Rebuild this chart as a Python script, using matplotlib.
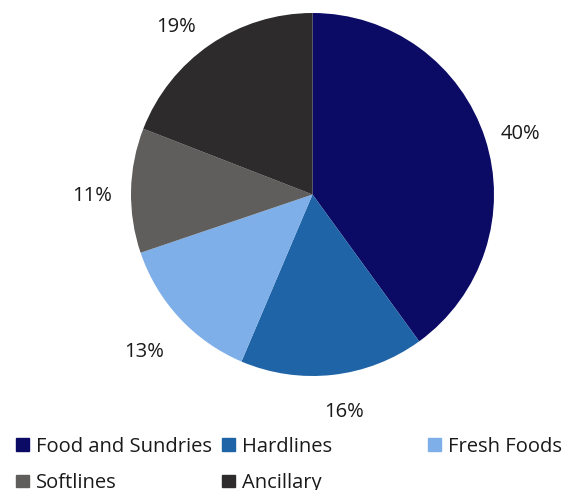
import matplotlib
matplotlib.use("Agg")
import matplotlib.pyplot as plt
from matplotlib.patches import Rectangle

plt.rcParams['font.family'] = ['Open Sans', 'DejaVu Sans']

categories = ["Food and Sundries", "Hardlines", "Fresh Foods", "Softlines", "Ancillary"]
shares = [40.0, 16.4, 13.4, 11.1, 19.1]
colors = ["#0b0b66", "#1f64a6", "#7eafe9", "#5f5e5c", "#2d2b2c"]

W, H = 570, 490
fig = plt.figure(figsize=(W / 100, H / 100), dpi=100)

# pie: centre (312.5, 194.5) px, radius 181.5 px
cx, cy, r = 312.5, 194.5, 181.5
ax = fig.add_axes([(cx - r) / W, (H - cy - r) / H, 2 * r / W, 2 * r / H])
wedges, texts, autotexts = ax.pie(
    shares, colors=colors, startangle=90, counterclock=False,
    autopct='%.0f%%', pctdistance=1.2,
    textprops={'fontsize': 14.5, 'color': '#1a1a1a'},
    wedgeprops={'linewidth': 0})
ax.set_xlim(-1, 1)
ax.set_ylim(-1, 1)
ax.set_aspect('equal')
ax.axis('off')

# outside-end label spots (baseline, in pie radius units)
label_spots = [(1.144, 0.306), (0.174, -1.226), (-0.928, -0.894),
               (-1.212, -0.036), (-0.752, 0.897)]
for t, (x, y) in zip(autotexts, label_spots):
    t.set_position((x, y))
    t.set_va('baseline')
    t.set_ha('center')

# legend, laid out like the original (row major, uneven columns)
# (marker left x, text baseline y) in pixels from top-left
legend_pos = [(16, 451.7), (222, 451.7), (428, 451.7), (16, 488), (222, 488)]
for (lx, ly), name, col in zip(legend_pos, categories, colors):
    fig.add_artist(Rectangle((lx / W, (H - ly + 1) / H), 12.5 / W, 12.5 / H,
                             color=col, transform=fig.transFigure))
    fig.text((lx + 19.5) / W, (H - ly) / H, name, fontsize=14.5,
             color='#1a1a1a', va='baseline', ha='left')

fig.savefig("out.png", dpi=100)
